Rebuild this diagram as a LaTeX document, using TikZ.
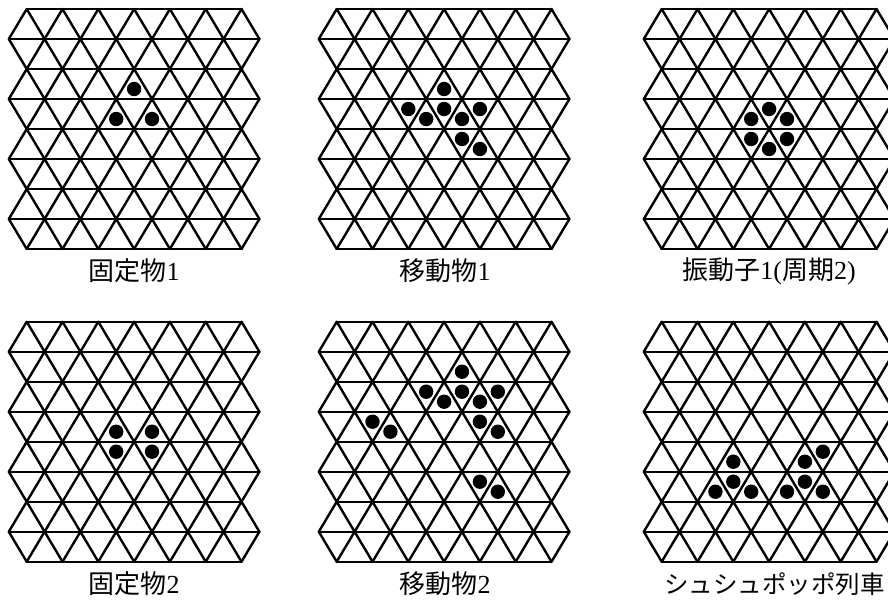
\documentclass[tikz,border=0pt]{standalone}
\usepackage{fontspec}
\setmainfont{Liberation Serif}
\newfontfamily\cjk{Noto Sans CJK JP}
\newcommand\gridhs{17.9}
\tikzset{
  gridline/.style={line width=2.4pt, line cap=round, line join=round, black},
  stone/.style={fill=black},
  lbl/.style={font=\fontsize{26}{30}\selectfont, inner sep=0pt}
}
\newcommand{\trigrid}[2]{%
  \begin{scope}[shift={(#1,#2)}]
    \foreach \r in {0,...,8}{
      \pgfmathtruncatemacro\rodd{mod(\r,2)}
      \ifnum\rodd=0
        \draw[gridline] (0,30*\r) -- (12*\gridhs,30*\r);
      \else
        \draw[gridline] (-\gridhs,30*\r) -- (13*\gridhs,30*\r);
      \fi
    }
    \foreach \r in {0,...,7}{
      \pgfmathtruncatemacro\rodd{mod(\r,2)}
      \ifnum\rodd=0
        \foreach \k in {0,2,...,12}{
          \draw[gridline] (\k*\gridhs-\gridhs,30*\r+30) -- (\k*\gridhs,30*\r) -- (\k*\gridhs+\gridhs,30*\r+30);
        }
      \else
        \foreach \k in {1,3,...,11}{
          \draw[gridline] (\k*\gridhs-\gridhs,30*\r+30) -- (\k*\gridhs,30*\r) -- (\k*\gridhs+\gridhs,30*\r+30);
        }
        \draw[gridline] (-\gridhs,30*\r) -- (0,30*\r+30);
        \draw[gridline] (13*\gridhs,30*\r) -- (12*\gridhs,30*\r+30);
      \fi
    }
  \end{scope}}
\newcommand{\stones}[3]{%
  \begin{scope}[shift={(#1,#2)}]
    \foreach \k/\yy in {#3}{
      \fill[stone] (\k*\gridhs,30*\yy) circle (7.2pt);
    }
  \end{scope}}
\begin{document}
\begin{tikzpicture}[x=1pt,y=-1pt]
  \useasboundingbox (0,0) rectangle (888,606);
  \clip (0,0) rectangle (888,606);
  \fill[white] (0,0) rectangle (888,606);
  % grids
  \trigrid{26.7}{9}
  \trigrid{336.7}{9}
  \trigrid{661.7}{9}
  \trigrid{26.7}{321.7}
  \trigrid{336.7}{321.7}
  \trigrid{661.7}{321.7}
  % stones
  \stones{26.7}{9}{6/2.667, 5/3.667, 7/3.667}
  \stones{336.7}{9}{6/2.667, 4/3.333, 5/3.667, 6/3.333, 7/3.667, 8/3.333, 7/4.333, 8/4.667}
  \stones{661.7}{9}{5/3.667, 6/3.333, 7/3.667, 5/4.333, 6/4.667, 7/4.333}
  \stones{26.7}{321.7}{5/3.667, 7/3.667, 5/4.333, 7/4.333}
  \stones{336.7}{321.7}{7/1.667, 5/2.333, 6/2.667, 7/2.333, 8/2.667, 9/2.333, 2/3.333, 3/3.667, 8/3.333, 9/3.667, 8/5.333, 9/5.667}
  \stones{661.7}{321.7}{4/4.667, 3/5.667, 4/5.333, 5/5.667, 7/5.667, 8/5.333, 9/5.667, 8/4.667, 9/4.333}
  % labels
  \node[lbl] (l1) at (134,271) {{\cjk 固定物}1};
  \node[lbl] (l2) at (445,271) {{\cjk 移動物}1};
  \node[lbl] (l3) at (769,271) {{\cjk 振動子}1({\cjk 周期}2)};
  \node[lbl] (l4) at (134,584) {{\cjk 固定物}2};
  \node[lbl] (l5) at (445,584) {{\cjk 移動物}2};
  \node[lbl, anchor=west, font=\fontsize{24.5}{28}\selectfont] (l6) at (664,584) {\cjk シュシュポッポ列車};
\end{tikzpicture}
\end{document}
